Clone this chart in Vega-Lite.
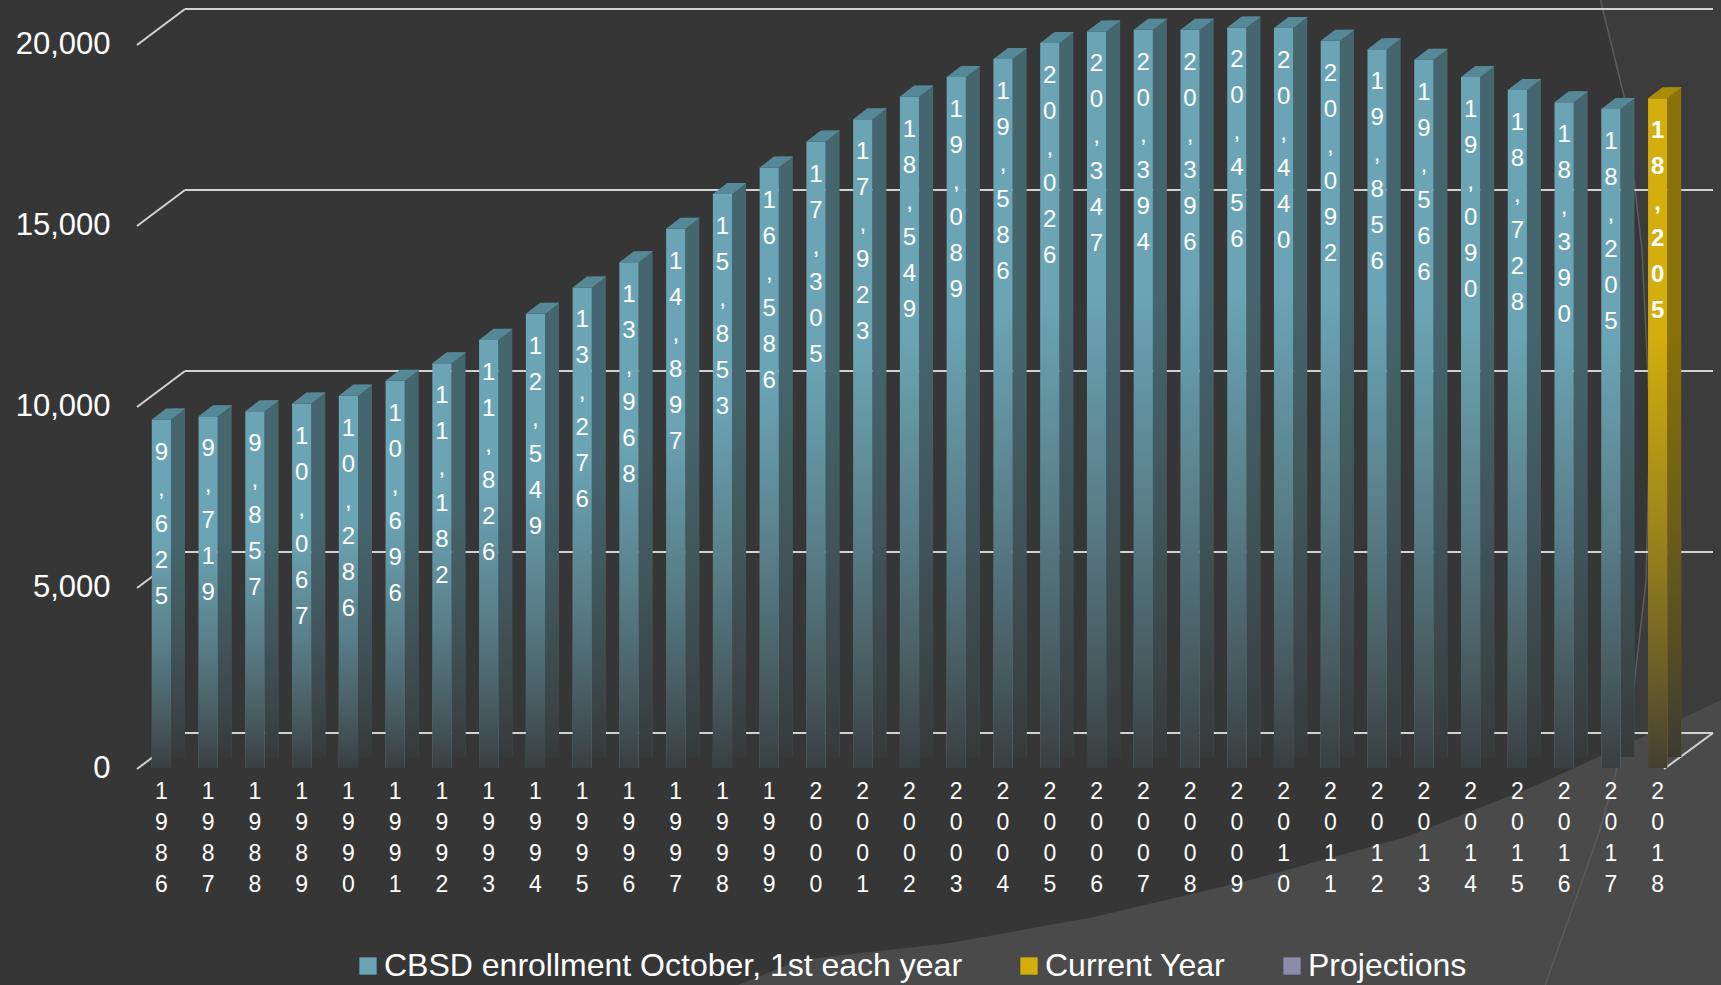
{
  "$schema": "https://vega.github.io/schema/vega-lite/v6.json",
  "width": 1528,
  "height": 724,
  "autosize": {"type": "none"},
  "padding": {"left": 185, "top": 9, "right": 8, "bottom": 252},
  "background": "#363636",
  "config": {
    "view": {"stroke": null},
    "font": "Liberation Sans",
    "axisX": {"labelExpr": "split(datum.label, '')", "labelAngle": 0, "labelFontSize": 23, "labelLineHeight": 31, "labelColor": "#ffffff", "labelPadding": 47, "labelBaseline": "top", "domain": false, "ticks": false, "tickSize": 0, "grid": false},
    "axisY": {"labelExpr": "format(datum.value, ',')", "tickCount": 5, "labelFontSize": 31, "labelColor": "#ffffff", "labelPadding": 75, "labelOffset": 35.5, "domain": false, "ticks": false, "tickSize": 0, "grid": false}
  },
  "datasets": {
    "enrollment": [
      {"year": "1986", "enrollment": 9625, "label": "9,625", "series": "CBSD enrollment October, 1st each year"},
      {"year": "1987", "enrollment": 9719, "label": "9,719", "series": "CBSD enrollment October, 1st each year"},
      {"year": "1988", "enrollment": 9857, "label": "9,857", "series": "CBSD enrollment October, 1st each year"},
      {"year": "1989", "enrollment": 10067, "label": "10,067", "series": "CBSD enrollment October, 1st each year"},
      {"year": "1990", "enrollment": 10286, "label": "10,286", "series": "CBSD enrollment October, 1st each year"},
      {"year": "1991", "enrollment": 10696, "label": "10,696", "series": "CBSD enrollment October, 1st each year"},
      {"year": "1992", "enrollment": 11182, "label": "11,182", "series": "CBSD enrollment October, 1st each year"},
      {"year": "1993", "enrollment": 11826, "label": "11,826", "series": "CBSD enrollment October, 1st each year"},
      {"year": "1994", "enrollment": 12549, "label": "12,549", "series": "CBSD enrollment October, 1st each year"},
      {"year": "1995", "enrollment": 13276, "label": "13,276", "series": "CBSD enrollment October, 1st each year"},
      {"year": "1996", "enrollment": 13968, "label": "13,968", "series": "CBSD enrollment October, 1st each year"},
      {"year": "1997", "enrollment": 14897, "label": "14,897", "series": "CBSD enrollment October, 1st each year"},
      {"year": "1998", "enrollment": 15853, "label": "15,853", "series": "CBSD enrollment October, 1st each year"},
      {"year": "1999", "enrollment": 16586, "label": "16,586", "series": "CBSD enrollment October, 1st each year"},
      {"year": "2000", "enrollment": 17305, "label": "17,305", "series": "CBSD enrollment October, 1st each year"},
      {"year": "2001", "enrollment": 17923, "label": "17,923", "series": "CBSD enrollment October, 1st each year"},
      {"year": "2002", "enrollment": 18549, "label": "18,549", "series": "CBSD enrollment October, 1st each year"},
      {"year": "2003", "enrollment": 19089, "label": "19,089", "series": "CBSD enrollment October, 1st each year"},
      {"year": "2004", "enrollment": 19586, "label": "19,586", "series": "CBSD enrollment October, 1st each year"},
      {"year": "2005", "enrollment": 20026, "label": "20,026", "series": "CBSD enrollment October, 1st each year"},
      {"year": "2006", "enrollment": 20347, "label": "20,347", "series": "CBSD enrollment October, 1st each year"},
      {"year": "2007", "enrollment": 20394, "label": "20,394", "series": "CBSD enrollment October, 1st each year"},
      {"year": "2008", "enrollment": 20396, "label": "20,396", "series": "CBSD enrollment October, 1st each year"},
      {"year": "2009", "enrollment": 20456, "label": "20,456", "series": "CBSD enrollment October, 1st each year"},
      {"year": "2010", "enrollment": 20440, "label": "20,440", "series": "CBSD enrollment October, 1st each year"},
      {"year": "2011", "enrollment": 20092, "label": "20,092", "series": "CBSD enrollment October, 1st each year"},
      {"year": "2012", "enrollment": 19856, "label": "19,856", "series": "CBSD enrollment October, 1st each year"},
      {"year": "2013", "enrollment": 19566, "label": "19,566", "series": "CBSD enrollment October, 1st each year"},
      {"year": "2014", "enrollment": 19090, "label": "19,090", "series": "CBSD enrollment October, 1st each year"},
      {"year": "2015", "enrollment": 18728, "label": "18,728", "series": "CBSD enrollment October, 1st each year"},
      {"year": "2016", "enrollment": 18390, "label": "18,390", "series": "CBSD enrollment October, 1st each year"},
      {"year": "2017", "enrollment": 18205, "label": "18,205", "series": "CBSD enrollment October, 1st each year"},
      {"year": "2018", "enrollment": 18500, "label": "18,205", "series": "Current Year"}
    ],
    "grid": [{"v": 0}, {"v": 5000}, {"v": 10000}, {"v": 15000}, {"v": 20000}],
    "deco": [{"name": "backdrop"}]
  },
  "layer": [
    {
      "data": {"name": "deco"},
      "mark": {"type": "point", "shape": "M-1.15,-0.19L-0.88,0.91L-0.71,2.41L-0.63,4.11L-0.67,5.71L-0.83,7.11L-1.13,8.21L-1.73,9.91L0.27,9.91L0.27,-0.19Z", "size": 40000, "filled": true, "fill": "#3c3c3c", "strokeWidth": 0, "opacity": 1},
      "encoding": {"x": {"value": "width"}, "y": {"value": 0}}
    },
    {
      "data": {"name": "deco"},
      "mark": {"type": "point", "shape": "M-10.13,9.91L-9.13,9.51L-7.63,9.34L-6.19,9.08L-4.63,8.71L-3.07,8.28L-1.83,7.79L-0.66,7.26L0.08,6.91L0.27,6.81L0.27,9.91Z", "size": 40000, "filled": true, "fill": "#4a4a4a", "strokeWidth": 0, "opacity": 1},
      "encoding": {"x": {"value": "width"}, "y": {"value": 0}}
    },
    {
      "data": {"name": "deco"},
      "mark": {"type": "point", "shape": "M-1.15,-0.19L-0.88,0.91L-0.71,2.41L-0.63,4.11L-0.67,5.71L-0.83,7.11L-1.13,8.21L-1.73,9.91", "size": 40000, "filled": false, "stroke": "#5c5c5c", "strokeWidth": 1.5, "opacity": 1},
      "encoding": {"x": {"value": "width"}, "y": {"value": 0}}
    },
    {
      "data": {"name": "grid"},
      "mark": {"type": "rule", "color": "#d2d2d2", "strokeWidth": 2},
      "encoding": {
        "y": {"field": "v", "type": "quantitative", "title": null, "scale": {"domain": [0, 20000], "nice": false}}
      }
    },
    {
      "data": {"name": "grid"},
      "mark": {"type": "point", "shape": "M0,0L-1,0.75", "size": 9216, "filled": false, "stroke": "#d2d2d2", "strokeWidth": 2, "opacity": 1},
      "encoding": {
        "x": {"value": 0},
        "y": {"field": "v", "type": "quantitative", "title": null, "scale": {"domain": [0, 20000], "nice": false}}
      }
    },
    {
      "data": {"name": "grid"},
      "transform": [{"filter": "datum.v === 0"}],
      "mark": {"type": "point", "shape": "M0,0L-1,0.735", "size": 9604, "filled": false, "stroke": "#d2d2d2", "strokeWidth": 2, "opacity": 1},
      "encoding": {
        "x": {"value": "width"},
        "y": {"field": "v", "type": "quantitative", "title": null, "scale": {"domain": [0, 20000], "nice": false}}
      }
    },
    {
      "data": {"name": "enrollment"},
      "mark": {"type": "bar", "width": 14, "xOffset": 16.6, "yOffset": 24},
      "encoding": {
        "x": {"field": "year", "type": "ordinal", "title": null, "axis": {"zindex": 1}, "scale": {"range": [-47, 1496], "paddingInner": 0.59, "paddingOuter": 0.295}},
        "y": {"field": "enrollment", "type": "quantitative", "title": null, "scale": {"domain": [0, 20000], "nice": false}},
        "color": {"condition": {"test": "datum.series === 'Current Year'", "value": "#8a7208"}, "value": "#46666f"}
      }
    },
    {
      "data": {"name": "enrollment"},
      "mark": {"type": "bar", "width": 14, "xOffset": 16.6, "yOffset": 24, "fill": {"gradient": "linear", "x1": 0, "y1": 0, "x2": 0, "y2": 1, "stops": [{"offset": 0, "color": "rgba(54,54,54,0)"}, {"offset": 0.35, "color": "rgba(54,54,54,0)"}, {"offset": 0.65, "color": "rgba(54,54,54,0.35)"}, {"offset": 0.85, "color": "rgba(54,54,54,0.65)"}, {"offset": 1, "color": "rgba(54,54,54,0.92)"}]}},
      "encoding": {
        "x": {"field": "year", "type": "ordinal", "title": null, "axis": {"zindex": 1}, "scale": {"range": [-47, 1496], "paddingInner": 0.59, "paddingOuter": 0.295}},
        "y": {"field": "enrollment", "type": "quantitative", "title": null, "scale": {"domain": [0, 20000], "nice": false}}
      }
    },
    {
      "data": {"name": "enrollment"},
      "mark": {"type": "bar", "yOffset": 35},
      "encoding": {
        "x": {"field": "year", "type": "ordinal", "title": null, "axis": {"zindex": 1}, "scale": {"range": [-47, 1496], "paddingInner": 0.59, "paddingOuter": 0.295}},
        "y": {"field": "enrollment", "type": "quantitative", "title": null, "scale": {"domain": [0, 20000], "nice": false}},
        "color": {"field": "series", "type": "nominal",
          "scale": {"domain": ["CBSD enrollment October, 1st each year", "Current Year", "Projections"], "range": ["#6ba5b5", "#d3ae0c", "#8e8aab"]},
          "legend": {"orient": "none", "legendX": 167, "legendY": 941, "direction": "horizontal", "columns": 3, "title": null, "symbolType": "square", "symbolSize": 300, "symbolStrokeWidth": 0, "symbolOpacity": 1, "labelFontSize": 32, "labelColor": "#ffffff", "labelOffset": 0, "columnPadding": 50, "labelLimit": 0}}
      }
    },
    {
      "data": {"name": "enrollment"},
      "mark": {"type": "bar", "yOffset": 35, "fill": {"gradient": "linear", "x1": 0, "y1": 0, "x2": 0, "y2": 1, "stops": [{"offset": 0, "color": "rgba(54,54,54,0)"}, {"offset": 0.35, "color": "rgba(54,54,54,0)"}, {"offset": 0.65, "color": "rgba(54,54,54,0.35)"}, {"offset": 0.85, "color": "rgba(54,54,54,0.65)"}, {"offset": 1, "color": "rgba(54,54,54,0.92)"}]}},
      "encoding": {
        "x": {"field": "year", "type": "ordinal", "title": null, "axis": {"zindex": 1}, "scale": {"range": [-47, 1496], "paddingInner": 0.59, "paddingOuter": 0.295}},
        "y": {"field": "enrollment", "type": "quantitative", "title": null, "scale": {"domain": [0, 20000], "nice": false}}
      }
    },
    {
      "data": {"name": "enrollment"},
      "mark": {"type": "point", "shape": "M-1,0L1,0L2.5,-1.15L0.5,-1.15Z", "size": 368, "filled": true, "strokeWidth": 0, "opacity": 1, "yOffset": 35},
      "encoding": {
        "x": {"field": "year", "type": "ordinal", "title": null, "axis": {"zindex": 1}, "scale": {"range": [-47, 1496], "paddingInner": 0.59, "paddingOuter": 0.295}},
        "y": {"field": "enrollment", "type": "quantitative", "title": null, "scale": {"domain": [0, 20000], "nice": false}},
        "color": {"condition": {"test": "datum.series === 'Current Year'", "value": "#a98c0a"}, "value": "#568998"}
      }
    },
    {
      "data": {"name": "enrollment"},
      "transform": [{"filter": "datum.series !== 'Current Year'"}, {"calculate": "split(datum.label, '')", "as": "chars"}],
      "mark": {"type": "text", "baseline": "top", "align": "center", "fontSize": 24, "lineHeight": 36, "color": "#ffffff", "yOffset": 56},
      "encoding": {
        "x": {"field": "year", "type": "ordinal", "title": null, "axis": {"zindex": 1}, "scale": {"range": [-47, 1496], "paddingInner": 0.59, "paddingOuter": 0.295}},
        "y": {"field": "enrollment", "type": "quantitative", "title": null, "scale": {"domain": [0, 20000], "nice": false}},
        "text": {"field": "chars", "type": "nominal"}
      }
    },
    {
      "data": {"name": "enrollment"},
      "transform": [{"filter": "datum.series === 'Current Year'"}, {"calculate": "split(datum.label, '')", "as": "chars"}],
      "mark": {"type": "text", "baseline": "top", "align": "center", "fontSize": 24, "fontWeight": "bold", "lineHeight": 36, "color": "#ffffff", "yOffset": 56},
      "encoding": {
        "x": {"field": "year", "type": "ordinal", "title": null, "axis": {"zindex": 1}, "scale": {"range": [-47, 1496], "paddingInner": 0.59, "paddingOuter": 0.295}},
        "y": {"field": "enrollment", "type": "quantitative", "title": null, "scale": {"domain": [0, 20000], "nice": false}},
        "text": {"field": "chars", "type": "nominal"}
      }
    }
  ]
}
